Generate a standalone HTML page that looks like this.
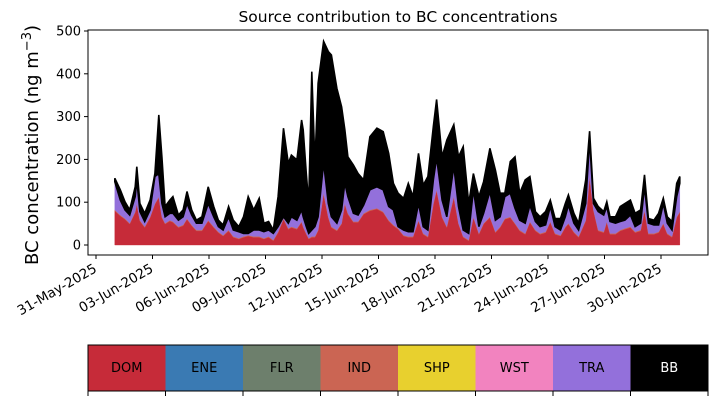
<!DOCTYPE html>
<html><head><meta charset="utf-8"><style>
body{margin:0;background:#fff;font-family:"DejaVu Sans",sans-serif}
svg text{font-family:"DejaVu Sans","Liberation Sans",sans-serif}
</style></head><body>
<svg id="c" width="717" height="402" xmlns="http://www.w3.org/2000/svg"></svg>
<script>
const hours=[0,7,13,19,26,28,32,38,45,51,56,60,64,70,74,81,87,92,98,104,111,119,126,132,138,145,151,158,164,170,177,184,190,196,202,208,215,221,225,232,238,240,244,247,251,255,259,266,272,276,283,289,293,297,304,310,317,325,334,342,349,355,361,368,374,380,387,393,399,406,410,417,423,432,438,444,451,457,464,470,478,485,491,497,504,510,516,523,529,536,542,549,555,561,568,574,578,585,591,600,605,610,616,623,627,631,638,644,650,657,663,670,675,680,687,693,699,704,710,716,720];
const dom=[80,68,60,49,76,95,56,41,64,95,111,64,49,56,53,41,45,60,45,33,33,56,41,29,21,33,18,14,18,21,18,18,14,18,10,29,60,37,41,37,53,41,25,14,18,18,33,119,64,41,33,49,95,72,53,53,72,80,84,76,56,45,37,21,18,18,56,25,18,95,127,64,41,111,49,18,10,64,25,49,64,29,41,60,64,49,33,25,53,33,25,29,53,25,21,41,49,29,18,56,158,80,33,29,53,25,25,33,37,41,29,33,80,25,25,29,49,25,18,64,76];
const ind=[2,2,2,2,2,2,2,2,2,2,2,2,2,2,2,2,2,2,2,2,2,2,2,2,2,2,2,2,2,2,2,2,2,2,2,2,2,2,2,2,2,2,2,2,2,2,2,3,2,2,2,2,3,2,2,2,2,2,2,2,2,2,2,2,2,2,2,2,2,3,3,2,2,3,2,2,2,2,2,2,2,2,2,2,2,2,2,2,2,2,2,2,2,2,2,2,2,2,2,2,3,2,2,2,2,2,2,2,2,2,2,2,2,2,2,2,2,2,2,2,2];
const tra=[66,35,20,19,35,55,20,12,16,63,54,31,15,16,19,15,19,35,23,16,16,39,23,12,12,31,15,15,7,4,15,15,15,15,15,12,4,12,23,19,27,23,16,11,15,23,31,70,31,23,16,31,47,39,19,15,19,47,50,51,32,35,4,12,11,11,39,16,15,55,74,39,23,70,39,15,15,63,16,23,59,27,23,51,55,35,23,24,38,20,16,16,35,16,12,23,42,20,15,39,85,15,43,39,35,28,24,20,19,27,12,16,54,24,20,16,46,24,15,47,66];
const bb=[8,24,19,12,23,31,19,19,23,7,137,109,24,31,39,12,16,28,12,7,15,39,24,15,12,24,23,12,39,86,47,74,20,20,8,70,207,140,144,141,210,203,124,70,370,148,312,284,355,378,315,241,125,93,113,97,59,124,137,136,124,62,78,74,113,82,117,97,125,125,136,101,179,97,116,195,70,38,70,74,101,117,55,8,74,120,63,101,67,23,23,31,15,19,27,31,24,23,16,55,20,12,12,8,11,11,15,35,39,35,31,31,28,11,11,27,12,15,20,31,16];
const yTicks=[0,100,200,300,400,500];
const xTickLabels=["31-May-2025","03-Jun-2025","06-Jun-2025","09-Jun-2025","12-Jun-2025","15-Jun-2025","18-Jun-2025","21-Jun-2025","24-Jun-2025","27-Jun-2025","30-Jun-2025"];
const xTickDays=[0,3,6,9,12,15,18,21,24,27,30];
const legendNames=["DOM","ENE","FLR","IND","SHP","WST","TRA","BB"];
const legendColors=["#c62b39","#3a7ab3","#6d7f6c","#cb6553","#e8d02e","#f283bf","#9370db","#000000"];

const NS="http://www.w3.org/2000/svg";
const svg=document.getElementById('c');
function mk(t,a,p){const e=document.createElementNS(NS,t);for(const k in a)e.setAttribute(k,a[k]);(p||svg).appendChild(e);return e;}
const PX0=88,PX1=708,PY0=30,PY1=255;
function yS(v){return 245-v*0.428;}
function xDay(d){return 96+d*18.833;}
function xH(h){return xDay(1+h/24);}

const plot=mk('g',{});


const layers=[[dom,"#c62b39","dom-area"],[ind,"#cb6553","ind-area"],[tra,"#9370db","tra-area"],[bb,"#000000","bb-area"]];
let base=hours.map(()=>0);
layers.forEach(([arr,col,name])=>{
  const top=base.map((b,i)=>b+arr[i]);
  let d="M"+hours.map((h,i)=>xH(h).toFixed(1)+","+yS(top[i]).toFixed(1)).join("L");
  for(let i=hours.length-1;i>=0;i--)d+="L"+xH(hours[i]).toFixed(1)+","+yS(base[i]).toFixed(1);
  d+="Z";
  const p=mk('path',{d:d,fill:col,stroke:col,'stroke-width':name==='bb-area'?1.6:0.4},plot);
  
  
  base=top;
});
const fr=mk('rect',{x:PX0,y:PY0,width:PX1-PX0,height:PY1-PY0,fill:'none',stroke:'#000','stroke-width':1});


yTicks.forEach(v=>{
  const y=yS(v);
  mk('line',{x1:PX0-4,x2:PX0,y1:y,y2:y,stroke:'#000'});
  const t=mk('text',{x:PX0-7,y:y+4.5,'text-anchor':'end','font-size':13});
  t.textContent=v;
  
  
});
xTickDays.forEach((d,i)=>{
  const x=xDay(d);
  mk('line',{x1:x,x2:x,y1:PY1,y2:PY1+4,stroke:'#000'});
  const ax=x-3,ay=PY1+8;
  const t=mk('text',{x:ax,y:ay,'text-anchor':'end','font-size':13.5,transform:`rotate(-30 ${ax} ${ay})`,dy:'0.7em'});
  t.textContent=xTickLabels[i];
  
  
});
const ti=mk('text',{x:398,y:22,'text-anchor':'middle','font-size':15.5});
ti.textContent="Source contribution to BC concentrations";


const yl=mk('text',{x:38,y:145,'text-anchor':'middle','font-size':18,transform:'rotate(-90 38 145)'});
yl.innerHTML='BC concentration (ng m<tspan dy="-7" font-size="13">−3</tspan><tspan dy="7">)</tspan>';


const lg=mk('g',{});


const w=(PX1-PX0)/legendNames.length;
legendNames.forEach((n,i)=>{
  const x=PX0+i*w;
  const r=mk('rect',{x:x,y:345,width:w+0.5,height:46,fill:legendColors[i]},lg);
  
  
  const t=mk('text',{x:x+w/2,y:372,'text-anchor':'middle','font-size':13,fill:n==='BB'?'#fff':'#000'},lg);
  t.textContent=n;
  
  
});
mk('rect',{x:PX0,y:345,width:PX1-PX0,height:46,fill:'none',stroke:'#000','stroke-width':1},lg);
for(let i=0;i<=legendNames.length;i++){const x=PX0+i*w;mk('line',{x1:x,x2:x,y1:391,y2:396,stroke:'#000'},lg);}
</script>
</body></html>
